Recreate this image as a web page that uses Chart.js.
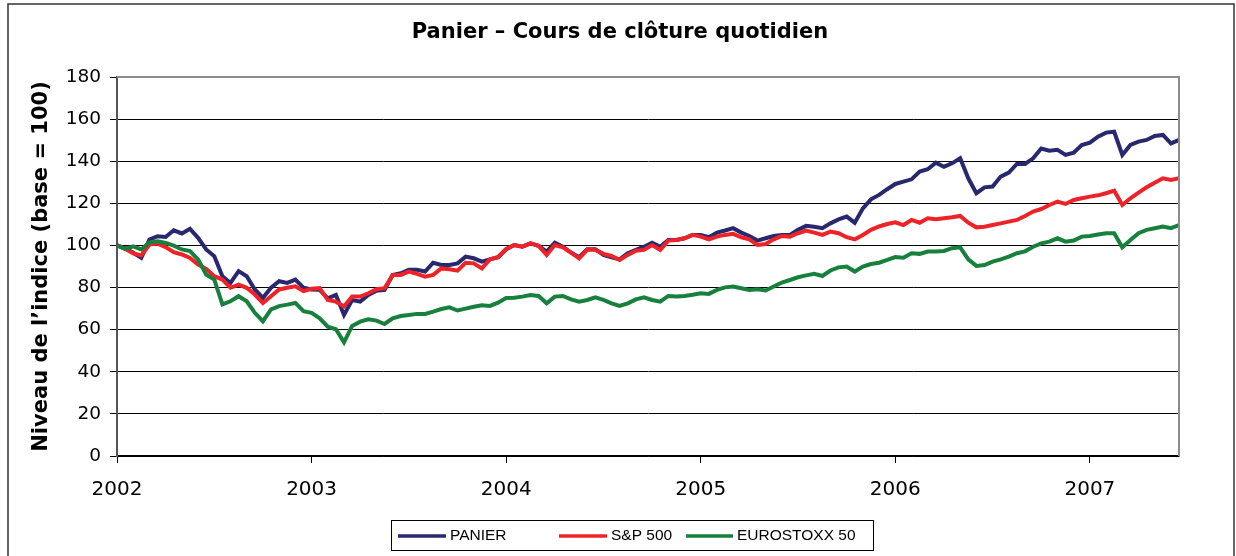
<!DOCTYPE html>
<html><head><meta charset="utf-8">
<script src="https://cdn.jsdelivr.net/npm/chart.js@4/dist/chart.umd.min.js"></script>
<style>html,body{margin:0;padding:0;background:#fff;} #wrap{position:relative;width:1236px;height:556px;}</style>
</head><body><div id="wrap"><canvas id="c" width="1236" height="556"></canvas></div>
<script>
// ---- data (half-monthly readings, base = 100 at 2 Jan 2002) ----
const chartTitle = 'Panier \u2013 Cours de cl\u00f4ture quotidien';
const yAxisTitle = 'Niveau de l\u2019indice (base = 100)';
const seriesNames = ['PANIER', 'S&P 500', 'EUROSTOXX 50'];
const xTickYears = [2002, 2003, 2004, 2005, 2006, 2007];
const yTickValues = [0, 20, 40, 60, 80, 100, 120, 140, 160, 180];

const panier = [100,98.8,96.5,94.1,102.8,104.4,104,107.2,105.7,107.9,103.6,98.1,94.9,85.4,82.2,87.8,85.4,79.1,75.1,79.9,
83,82.2,83.8,79.9,79.1,78.9,74.9,76.5,67,74.1,73.3,76.5,78.5,78.9,86,86.8,88.4,88.4,87.6,91.8,
90.7,90.7,91.5,94.7,93.9,92.3,93.4,94.4,98.2,100.2,99.4,101,99.8,97.1,101.3,99.4,96.6,94.4,98.2,98.2,
95.5,94.4,93.4,96.3,97.9,99.4,101.3,99.4,102.6,102.6,103.4,105,105,103.9,106.1,107.1,108.2,106.1,104.5,102.3,
103.4,104.5,105,105,107.4,109.3,108.9,108.2,110.5,112.4,113.7,110.8,117.6,121.9,124,126.7,129.2,130.3,131.4,135.1,
136.2,139.3,137.4,139,141.4,131.9,124.8,127.6,128,132.7,134.6,138.7,138.7,141.4,146,145,145.4,143,144.1,147.7,
148.8,151.7,153.6,154,143,147.7,149.3,150.1,152,152.5,148.5,150.1];

const sp500 = [100,98.4,96.2,95.2,100.4,100.9,99.2,96.8,95.7,94.1,90.9,88.9,85.4,83.8,79.9,81.4,79.9,76.7,72.7,75.9,
79.1,79.9,80.6,78.3,79.4,79.7,74.1,73.3,71,75.7,75.7,77.3,79.2,79.7,86,86,87.6,86.5,85.2,86,
89.1,88.7,88,91.8,91.5,89.1,93.4,94.4,98.2,100.2,99.4,101,99.8,95.5,100.2,99.1,96.6,93.9,97.9,97.9,
96,95,93.1,95.5,97.5,97.9,100.2,97.9,102.3,102.6,103.4,105,104.2,102.9,104.2,105,105.5,103.9,102.9,100.2,
100.7,102.9,104.5,104.2,105.8,107.1,106.1,105,106.6,105.8,103.9,102.9,105,107.4,109,110.2,111,109.7,112.1,110.8,
112.9,112.4,112.9,113.4,114,110.8,108.6,108.9,109.7,110.5,111.3,112.1,114,116.1,117.3,119.2,120.8,119.7,121.6,122.4,
123.2,123.8,124.8,126,119.2,122.4,125.1,127.6,129.8,131.9,131.1,131.9];

const eurostoxx = [100,98.4,99.6,98.1,101.5,102,101.2,99.9,98.1,97.3,93.3,86.2,83.8,72,73.5,75.9,73.5,68,64,69.6,
71.2,71.9,72.7,68.8,68,65.4,61.4,60.2,54,61.8,63.8,64.9,64.3,62.7,65.4,66.5,67,67.5,67.5,68.6,
69.8,70.6,69.1,70,70.9,71.6,71.3,72.8,75,75.2,75.7,76.5,76,72.5,75.7,76,74.4,73.3,74.1,75.4,
74.1,72.5,71.3,72.5,74.4,75.4,74.1,73.3,76,75.7,76,76.6,77.3,77,78.9,80.1,80.5,79.7,78.9,79.2,
78.6,80.5,82.4,83.6,84.9,85.8,86.5,85.5,88.1,89.6,90,87.6,90,91.2,91.8,93.1,94.5,94.2,96.3,96,
97.1,97.1,97.4,98.7,99.1,93.4,90.3,90.7,92.3,93.4,94.7,96.3,97.2,99.4,101,101.8,103.4,101.8,102.3,104.2,
104.5,105.2,105.8,105.8,99.1,102.6,105.8,107.4,108.2,109,108.2,109.7];

// observation dates (fractional years, half-monthly)
const dates = panier.map((_, i) => 2002 + i / 24);

const colors = ['#28286f', '#ee2328', '#17803d'];

function toPoints(vals) { return vals.map((v, i) => ({ x: dates[i], y: v })); }

const frameAndLegend = {
  id: 'frameAndLegend',
  beforeDraw(chart) {
    const ctx = chart.ctx;
    ctx.save();
    ctx.fillStyle = '#fff';
    ctx.fillRect(0, 0, chart.width, chart.height);
    ctx.restore();
  },
  afterDraw(chart) {
    const ctx = chart.ctx;
    const a = chart.chartArea;
    ctx.save();
    // outer border
    ctx.strokeStyle = '#333';
    ctx.lineWidth = 1.5;
    ctx.strokeRect(8, 4, 1226, 580);
    // title
    ctx.fillStyle = '#000';
    ctx.font = 'bold 21px "DejaVu Sans", Verdana, sans-serif';
    ctx.textAlign = 'center';
    ctx.textBaseline = 'middle';
    ctx.fillText(chartTitle, 620, 33);
    // plot frame top/right
    ctx.strokeStyle = '#8c8c8c';
    ctx.lineWidth = 2;
    ctx.beginPath();
    ctx.moveTo(a.left, a.top);
    ctx.lineTo(a.right, a.top);
    ctx.lineTo(a.right, a.bottom);
    ctx.stroke();
    // legend box
    ctx.strokeStyle = '#000';
    ctx.lineWidth = 1;
    ctx.strokeRect(391.5, 520.5, 482, 30);
    const items = [
      { x0: 398, x1: 446, tx: 450 },
      { x0: 559, x1: 607, tx: 611 },
      { x0: 686, x1: 733, tx: 737 }
    ];
    ctx.font = '15.5px "Liberation Sans", Arial, sans-serif';
    ctx.textBaseline = 'middle';
    ctx.textAlign = 'left';
    items.forEach((it, k) => {
      ctx.strokeStyle = colors[k];
      ctx.lineWidth = 3.5;
      ctx.beginPath();
      ctx.moveTo(it.x0, 536);
      ctx.lineTo(it.x1, 536);
      ctx.stroke();
      ctx.fillStyle = '#000';
      ctx.fillText(seriesNames[k], it.tx, 536);
    });
    ctx.restore();
  }
};

new Chart(document.getElementById('c'), {
  type: 'line',
  data: {
    datasets: [
      { label: seriesNames[0], data: toPoints(panier), borderColor: colors[0], backgroundColor: colors[0], borderWidth: 4, pointRadius: 0, tension: 0, order: 3 },
      { label: seriesNames[1], data: toPoints(sp500), borderColor: colors[1], backgroundColor: colors[1], borderWidth: 4, pointRadius: 0, tension: 0, order: 2 },
      { label: seriesNames[2], data: toPoints(eurostoxx), borderColor: colors[2], backgroundColor: colors[2], borderWidth: 4, pointRadius: 0, tension: 0, order: 1 }
    ]
  },
  options: {
    responsive: false,
    animation: false,
    events: [],
    layout: { padding: { left: 0, right: 57, top: 77, bottom: 56 } },
    plugins: {
      legend: { display: false },
      tooltip: { enabled: false },
      title: { display: false }
    },
    scales: {
      x: {
        type: 'linear',
        min: xTickYears[0],
        max: 2007.458,
        afterFit: s => { s.height = 44; },
        afterBuildTicks: s => { s.ticks = xTickYears.map(v => ({ value: v })); },
        ticks: {
          includeBounds: false,
          stepSize: 1,
          maxRotation: 0,
          autoSkip: false,
          padding: 15,
          color: '#000',
          font: { family: '"DejaVu Sans", Verdana, sans-serif', size: 20 },
          callback: v => String(v)
        },
        grid: { drawOnChartArea: false, drawTicks: true, tickLength: 7, color: '#000', lineWidth: 1 },
        border: { display: true, color: '#000', width: 1.5 }
      },
      y: {
        min: 0,
        max: 180,
        afterFit: s => { s.width = 117; },
        afterBuildTicks: s => { s.ticks = yTickValues.map(v => ({ value: v })); },
        ticks: {
          stepSize: 20,
          padding: 9,
          color: '#000',
          font: { family: '"DejaVu Sans", Verdana, sans-serif', size: 18.5 }
        },
        grid: { color: '#000', lineWidth: 1, tickLength: 7, drawTicks: true },
        border: { display: true, color: '#555', width: 2 },
        title: {
          display: true,
          text: yAxisTitle,
          color: '#000',
          font: { family: '"DejaVu Sans", Verdana, sans-serif', size: 21, weight: 'bold' },
          padding: { top: 29, bottom: 0 }
        }
      }
    }
  },
  plugins: [frameAndLegend]
});
</script>
</body></html>
